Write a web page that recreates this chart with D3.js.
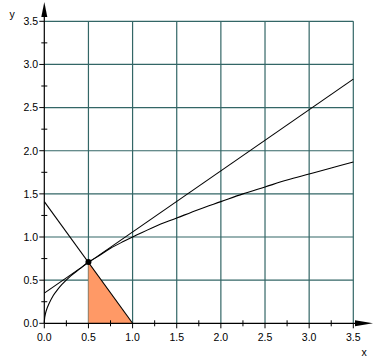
<!DOCTYPE html>
<html><head><meta charset="utf-8">
<script src="https://cdn.jsdelivr.net/npm/d3@7"></script>
<style>html,body{margin:0;padding:0;background:#fff}</style>
</head><body>
<script>
// Data
const curveX = [0, 0.005, 0.02, 0.05, 0.1, 0.15, 0.2, 0.3, 0.4, 0.5, 0.6, 0.75, 0.9, 1.0, 1.25, 1.5, 1.75, 2.0, 2.25, 2.5, 2.75, 3.0, 3.25, 3.5];
const curveY = [0, 0.07, 0.14, 0.22, 0.32, 0.39, 0.45, 0.55, 0.63, 0.71, 0.77, 0.87, 0.95, 1.0, 1.12, 1.22, 1.32, 1.41, 1.5, 1.58, 1.66, 1.73, 1.8, 1.87];
const tangentX = [0, 3.5];
const tangentY = [0.35, 2.83];
const normalX = [0, 1.0];
const normalY = [1.41, 0];
const shadeX = [0.5, 0.5, 1.0];
const shadeY = [0, 0.71, 0];
const pointX = [0.5];
const pointY = [0.71];
const majorTicks = [0, 0.5, 1.0, 1.5, 2.0, 2.5, 3.0, 3.5];
const minorTicks = [0.25, 0.75, 1.25, 1.75, 2.25, 2.75, 3.25];

const W = 389, H = 360;
const svg = d3.select("body").append("svg").attr("width", W).attr("height", H)
  .style("font-family", "'Liberation Sans', Arial, sans-serif");

const x = d3.scaleLinear().domain([0, 3.5]).range([44.3, 353.3]);
const y = d3.scaleLinear().domain([0, 3.5]).range([323.3, 21.3]);
const grid = "#336666";

// grid
svg.append("g").selectAll("line").data(majorTicks.slice(1)).join("line")
  .attr("x1", d => x(d)).attr("x2", d => x(d)).attr("y1", y(0)).attr("y2", y(3.5))
  .attr("stroke", grid).attr("stroke-width", 1.2);
svg.append("g").selectAll("line").data(majorTicks.slice(1)).join("line")
  .attr("x1", x(0)).attr("x2", x(3.5)).attr("y1", d => y(d)).attr("y2", d => y(d))
  .attr("stroke", grid).attr("stroke-width", 1.2);

// shaded triangle
svg.append("path")
  .attr("d", d3.line().x(d => x(d[0])).y(d => y(d[1]))(shadeX.map((v, i) => [v, shadeY[i]])) + "Z")
  .attr("fill", "#ff9966").attr("stroke", "none");

const line = d3.line().x(d => x(d[0])).y(d => y(d[1]));
svg.append("path").attr("d", line.curve(d3.curveCatmullRom)(curveX.map((v, i) => [v, curveY[i]])))
  .attr("fill", "none").attr("stroke", "#000").attr("stroke-width", 1.1);
const lin = d3.line().x(d => x(d[0])).y(d => y(d[1]));
svg.append("path").attr("d", lin(tangentX.map((v, i) => [v, tangentY[i]])))
  .attr("fill", "none").attr("stroke", "#000").attr("stroke-width", 1.1);
svg.append("path").attr("d", lin(normalX.map((v, i) => [v, normalY[i]])))
  .attr("fill", "none").attr("stroke", "#000").attr("stroke-width", 1.1);

// axes
svg.append("line").attr("x1", x(0)).attr("x2", 356).attr("y1", y(0)).attr("y2", y(0)).attr("stroke", "#000").attr("stroke-width", 1.2);
svg.append("line").attr("x1", x(0)).attr("x2", x(0)).attr("y1", y(0)).attr("y2", 16).attr("stroke", "#000").attr("stroke-width", 1.2);
// arrows
svg.append("path").attr("d", `M${x(0)},2 L${x(0) - 3},17 L${x(0) + 3},17 Z`).attr("fill", "#000");
svg.append("path").attr("d", `M373,${y(0)} L355,${y(0) - 3} L355,${y(0) + 3} Z`).attr("fill", "#000");

// ticks x
svg.append("g").selectAll("line").data(majorTicks).join("line")
  .attr("x1", d => x(d)).attr("x2", d => x(d)).attr("y1", y(0)).attr("y2", y(0) + 5)
  .attr("stroke", "#000");
svg.append("g").selectAll("line").data(minorTicks).join("line")
  .attr("x1", d => x(d)).attr("x2", d => x(d)).attr("y1", y(0) - 3).attr("y2", y(0) + 3)
  .attr("stroke", "#000");
// ticks y
svg.append("g").selectAll("line").data(majorTicks).join("line")
  .attr("x1", x(0) - 5).attr("x2", x(0)).attr("y1", d => y(d)).attr("y2", d => y(d))
  .attr("stroke", "#000");
svg.append("g").selectAll("line").data(minorTicks).join("line")
  .attr("x1", x(0) - 3).attr("x2", x(0) + 3).attr("y1", d => y(d)).attr("y2", d => y(d))
  .attr("stroke", "#000");

const fmt = d3.format(".1f");
svg.append("g").selectAll("text").data(majorTicks).join("text")
  .attr("x", d => x(d)).attr("y", y(0) + 18).attr("text-anchor", "middle")
  .attr("font-size", 10.5).attr("fill", "#000").text(d => fmt(d));
svg.append("g").selectAll("text").data(majorTicks).join("text")
  .attr("x", 38).attr("y", d => y(d) + 3.8).attr("text-anchor", "end")
  .attr("font-size", 10.5).attr("fill", "#000").text(d => fmt(d));

svg.append("text").attr("x", 364).attr("y", 356).attr("text-anchor", "middle").attr("font-size", 10.5).text("x");
svg.append("text").attr("x", 12).attr("y", 18).attr("text-anchor", "middle").attr("font-size", 10.5).text("y");

// point
svg.append("g").selectAll("circle").data(pointX).join("circle")
  .attr("cx", d => x(d)).attr("cy", (d, i) => y(pointY[i])).attr("r", 3).attr("fill", "#000");
</script>
</body></html>
